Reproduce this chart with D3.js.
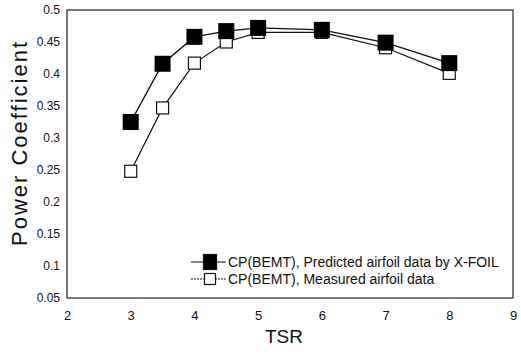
<!DOCTYPE html>
<html>
<head>
<meta charset="utf-8">
<script src="https://cdn.jsdelivr.net/npm/d3@7"></script>
<style>
  body { margin: 0; background: #fff; }
  text { font-family: "Liberation Sans", Arial, sans-serif; fill: #111; }
</style>
</head>
<body>
<svg id="chart" width="521" height="357"></svg>
<script>
const tsr = [3, 3.5, 4, 4.5, 5, 6, 7, 8];
const cpPredicted = [0.325, 0.416, 0.458, 0.467, 0.472, 0.469, 0.449, 0.417];
const cpMeasured = [0.248, 0.347, 0.417, 0.45, 0.465, 0.465, 0.441, 0.401];
const xTicks = [2, 3, 4, 5, 6, 7, 8, 9];
const yTicks = [0.05, 0.1, 0.15, 0.2, 0.25, 0.3, 0.35, 0.4, 0.45, 0.5];
const seriesNames = ['CP(BEMT), Predicted airfoil data by X-FOIL', 'CP(BEMT), Measured airfoil data'];

const margin = { left: 67, right: 8, top: 10, bottom: 59 };
const width = 521, height = 357;

const svg = d3.select('#chart');

const x = d3.scaleLinear().domain([2, 9]).range([margin.left, width - margin.right]);
const y = d3.scaleLinear().domain([0.05, 0.5]).range([height - margin.bottom, margin.top]);

// plot frame
svg.append('rect')
  .attr('x', x(2)).attr('y', y(0.5))
  .attr('width', x(9) - x(2)).attr('height', y(0.05) - y(0.5))
  .attr('fill', 'none').attr('stroke', '#222').attr('stroke-width', 1.2);

const xAxis = svg.append('g')
  .attr('transform', `translate(0,${y(0.05)})`)
  .call(d3.axisBottom(x).tickValues(xTicks).tickSize(0).tickPadding(13).tickFormat(d3.format('d')));
xAxis.select('.domain').remove();
xAxis.selectAll('text').style('font-size', '13px');

const yAxis = svg.append('g')
  .attr('transform', `translate(${x(2)},0)`)
  .call(d3.axisLeft(y).tickValues(yTicks).tickSize(0).tickPadding(7).tickFormat(d => d3.format('')(+d.toFixed(2))));
yAxis.select('.domain').remove();
yAxis.selectAll('text').style('font-size', '12px');

svg.append('text')
  .attr('transform', `translate(27,143) rotate(-90)`)
  .attr('text-anchor', 'middle')
  .style('font-size', '22px')
  .style('letter-spacing', '2px')
  .text('Power Coefficient');

svg.append('text')
  .attr('x', 284).attr('y', 343)
  .attr('text-anchor', 'middle')
  .style('font-size', '19px')
  .text('TSR');

const line = d3.line().x(d => x(d[0])).y(d => y(d[1]));

const measured = tsr.map((t, i) => [t, cpMeasured[i]]);
const predicted = tsr.map((t, i) => [t, cpPredicted[i]]);

svg.append('path').datum(measured).attr('d', line)
  .attr('fill', 'none').attr('stroke', '#111').attr('stroke-width', 1.2);
svg.append('path').datum(predicted).attr('d', line)
  .attr('fill', 'none').attr('stroke', '#111').attr('stroke-width', 1.4);

const openSize = 12, fillSize = 16;

svg.append('g').selectAll('rect')
  .data(measured).join('rect')
  .attr('x', d => x(d[0]) - openSize / 2)
  .attr('y', d => y(d[1]) - openSize / 2)
  .attr('width', openSize).attr('height', openSize)
  .attr('fill', '#fff').attr('stroke', '#111').attr('stroke-width', 1.2);

svg.append('g').selectAll('rect')
  .data(predicted).join('rect')
  .attr('x', d => x(d[0]) - fillSize / 2)
  .attr('y', d => y(d[1]) - fillSize / 2)
  .attr('width', fillSize).attr('height', fillSize)
  .attr('fill', '#000');

// legend
const legend = svg.append('g').attr('transform', 'translate(191,262)');
[0, 1].forEach(i => {
  const g = legend.append('g').attr('transform', `translate(0,${i * 17})`);
  g.append('line').attr('x1', 0).attr('x2', 35).attr('y1', 0).attr('y2', 0)
    .attr('stroke', '#111').attr('stroke-width', 1.2)
    .attr('stroke-dasharray', i === 1 ? '2,1' : null);
  const w = i === 0 ? 13 : 11, h = i === 0 ? 15 : 11;
  g.append('rect').attr('x', 19 - w / 2).attr('y', -h / 2).attr('width', w).attr('height', h)
    .attr('fill', i === 0 ? '#000' : '#fff').attr('stroke', '#111').attr('stroke-width', 1.2);
  g.append('text').attr('x', 37).attr('y', 5)
    .style('font-size', '14px')
    .text(seriesNames[i]);
});
</script>
</body>
</html>
